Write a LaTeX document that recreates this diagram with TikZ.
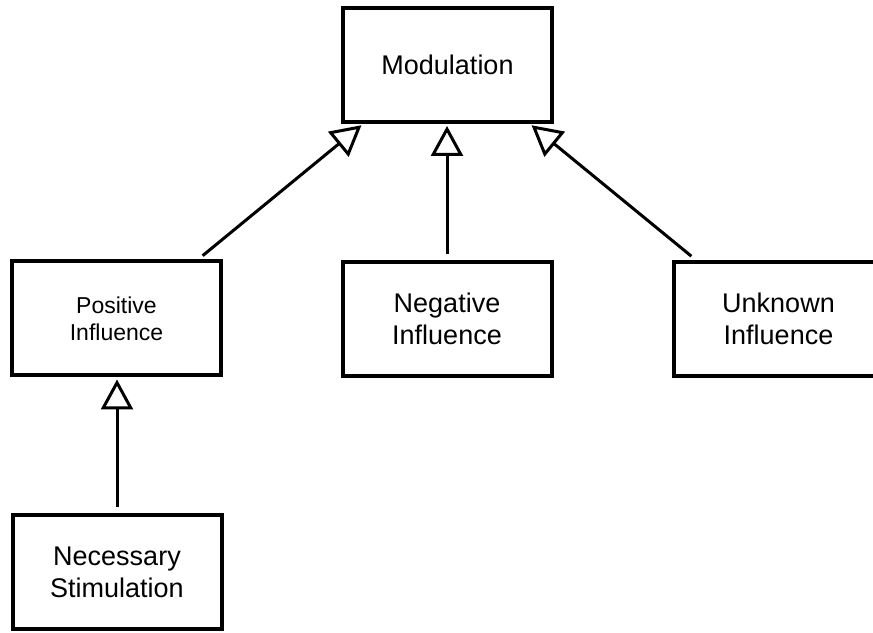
\documentclass[tikz,border=0pt]{standalone}
\usepackage{fontspec}
\setmainfont{Liberation Sans}
\usetikzlibrary{arrows.meta}

\begin{document}
\begin{tikzpicture}[x=1pt,y=1pt,
block/.style ={rectangle, draw=black, line width=4pt, fill=white,
  minimum width=209pt, minimum height=114pt, inner sep=0pt,
  align=center, font=\fontsize{27}{32}\selectfont
},
small/.style ={font=\fontsize{23}{27}\selectfont},
isa/.style ={line width=3pt, shorten <=6pt, shorten >=2pt,
  -{Triangle[open,length=30pt,width=32pt]}
}]
\useasboundingbox (0,0) rectangle (873,632);
\node (mod) at (447.5,567) [block] {Modulation};
\node (pi) at (116.5,313.5) [block,small] {Positive\\Influence};
\node (ni) at (447,313) [block] {Negative\\Influence};
\node (ui) at (778.5,313) [block] {Unknown\\Influence};
\node (ns) at (117,60) [block] {Necessary\\Stimulation};
% inheritance arrows
\draw[isa] ([xshift=-25pt]pi.north east) -- ([xshift=22pt]mod.south west);
\draw[isa] (ni.north) -- (ni.north |- mod.south);
\draw[isa] ([xshift=24pt]ui.north west) -- ([xshift=-24pt]mod.south east);
\draw[isa] (ns.north) -- (ns.north |- pi.south);
\end{tikzpicture}
\end{document}
